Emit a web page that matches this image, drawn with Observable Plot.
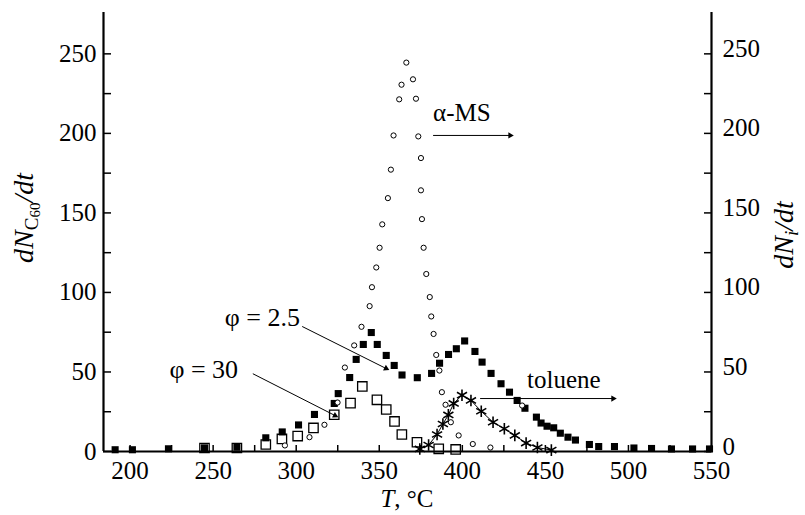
<!DOCTYPE html>
<html><head><meta charset="utf-8">
<script src="https://cdn.jsdelivr.net/npm/d3@7"></script>
<script src="https://cdn.jsdelivr.net/npm/@observablehq/plot@0.6"></script>
<style>body{margin:0;background:#fff} svg{display:block}</style>
</head><body><div id="chart"></div>
<script>
// ---- axes ----
const xDomain = [184, 550];
const yDomain = [0, 276];
const xTickLabels = [200, 250, 300, 350, 400, 450, 500, 550];
const xMinorTicks = [200, 225, 250, 275, 300, 325, 350, 375, 400, 425, 450, 475, 500, 525, 550];
const yTickLabels = [0, 50, 100, 150, 200, 250];
const yMinorTicks = [0, 25, 50, 75, 100, 125, 150, 175, 200, 225, 250];

// ---- series: open circles (alpha-MS) ----
const circT = [293.2, 308.0, 317.0, 324.9, 329.3, 334.9, 339.3, 344.2, 345.6, 348.2, 350.2, 351.8, 355.2, 357.0, 358.6, 362.0, 363.4, 366.3, 370.3, 372.1, 373.5, 375.1, 375.1, 375.7, 376.7, 378.3, 380.4, 381.3, 382.7, 384.3, 386.2, 387.7, 389.9, 393.1, 397.8, 406.3, 416.9, 436.0];
const circV = [3.8, 9.0, 16.8, 30.8, 52.8, 66.7, 78.4, 91.4, 103.3, 115.7, 128.1, 142.8, 159.3, 177.2, 198.7, 221.4, 230.6, 244.5, 234.0, 221.8, 198.1, 184.5, 164.2, 146.1, 128.1, 111.6, 97.1, 84.9, 73.9, 60.7, 50.9, 37.3, 29.4, 18.4, 10.1, 4.7, 2.5, 28.9];

// ---- filled squares (phi = 2.5) ----
const fsqT = [191.0, 201.4, 223.1, 244.8, 264.3, 281.7, 291.6, 301.4, 311.0, 322.9, 325.3, 332.2, 336.1, 340.4, 345.2, 348.8, 354.2, 359.0, 363.7, 372.9, 381.5, 386.3, 391.7, 396.4, 401.4, 407.6, 411.9, 417.3, 423.3, 428.4, 433.0, 437.7, 444.6, 447.4, 451.0, 455.0, 459.0, 463.6, 468.1, 476.5, 482.1, 491.6, 503.3, 513.9, 525.9, 538.6, 548.8];
const fsqV = [1.1, 1.1, 1.7, 2.3, 2.7, 8.6, 12.3, 16.7, 23.3, 30.2, 36.4, 46.5, 57.9, 67.3, 74.8, 67.3, 60.4, 54.1, 48.1, 46.4, 49.1, 55.5, 61.0, 64.6, 69.5, 62.9, 56.2, 49.1, 42.6, 37.3, 32.1, 27.2, 21.6, 17.9, 15.9, 14.9, 11.5, 9.0, 7.2, 4.4, 3.1, 3.1, 2.2, 1.9, 1.6, 1.6, 1.6];

// ---- open squares (phi = 30) ----
const osqT = [244.8, 264.3, 281.7, 291.4, 300.9, 310.4, 322.9, 332.7, 339.8, 348.6, 354.2, 359.2, 363.6, 372.7, 385.8, 396.0];
const osqV = [2.2, 2.2, 4.4, 7.9, 9.7, 14.8, 23.1, 30.4, 40.9, 32.5, 26.4, 18.9, 10.7, 5.8, 1.7, 1.3];

// ---- asterisks (toluene) ----
const astT = [374.4, 379.7, 384.8, 388.3, 391.6, 394.8, 399.8, 405.2, 411.4, 418.5, 425.3, 431.6, 438.4, 445.2, 453.6];
const astV = [1.6, 4.1, 10.7, 17.3, 23.0, 30.2, 35.4, 32.1, 25.3, 18.4, 14.3, 10.1, 5.3, 2.5, 0.9];

// ---- annotation texts ----
const labels = ["α-MS", "toluene", "φ = 2.5", "φ = 30"];

const zip = (a, b) => a.map((t, i) => ({T: t, v: b[i]}));
const circ = zip(circT, circV), fsq = zip(fsqT, fsqV), osq = zip(osqT, osqV), ast = zip(astT, astV);

// annotation geometry (data units)
const textStart = [
  {T: 382.4, v: 212.6, s: labels[0]},
  {T: 439.0, v: 44.7, s: labels[1]}
];
const textEnd = [
  {T: 302.3, v: 84.3, s: labels[2]},
  {T: 265.0, v: 51.6, s: labels[3]}
];
const arrows = [
  {x1: 382.4, y1: 198.7, x2: 428.8, y2: 198.7, rot: 90},
  {x1: 410.7, y1: 33.3, x2: 490.8, y2: 33.3, rot: 90},
  {x1: 303.6, y1: 78.6, x2: 354.1, y2: 52.2, rot: 116.6},
  {x1: 273.9, y1: 48.9, x2: 323.4, y2: 22.6, rot: 116.9}
];

const font = "'Liberation Serif', 'Times New Roman', serif";
const plot = Plot.plot({
  width: 805, height: 515,
  marginLeft: 103, marginRight: 94, marginTop: 12, marginBottom: 64,
  style: {fontFamily: font, fontSize: "25px", color: "black", background: "white", overflow: "visible"},
  x: {domain: xDomain},
  y: {domain: yDomain},
  marks: [
    // axis ticks (inward)
    Plot.axisX({ticks: xMinorTicks, tickSize: -6, fill: "none", label: null, strokeWidth: 1.5}),
    Plot.axisX({ticks: xTickLabels, tickSize: 0, tickPadding: 10, label: null, tickFormat: d => String(d)}),
    Plot.axisY({anchor: "left", ticks: yMinorTicks, tickSize: -8, fill: "none", label: null, strokeWidth: 1.5}),
    Plot.axisY({anchor: "left", ticks: yTickLabels, tickSize: 0, tickPadding: 7, label: null, tickFormat: d => String(d)}),
    Plot.axisY({anchor: "right", ticks: yMinorTicks, tickSize: -8, fill: "none", label: null, strokeWidth: 1.5}),
    Plot.axisY({anchor: "right", ticks: yTickLabels, tickSize: 0, tickPadding: 11, dy: -5, label: null, tickFormat: d => String(d)}),
    // axis lines
    Plot.ruleY([yDomain[0]], {stroke: "black", strokeWidth: 2.2}),
    Plot.ruleX([xDomain[0], xDomain[1]], {stroke: "black", strokeWidth: 2.2}),
    // annotations
    Plot.link(arrows, {x1: "x1", y1: "y1", x2: "x2", y2: "y2", stroke: "black", strokeWidth: 1}),
    Plot.dot(arrows, {x: "x2", y: "y2", symbol: "triangle2", r: 3, fill: "black", rotate: "rot"}),
    Plot.text(textStart, {x: "T", y: "v", text: "s", textAnchor: "start", fontSize: 25, fill: "black"}),
    Plot.text(textEnd, {x: "T", y: "v", text: "s", textAnchor: "end", fontSize: 26, fill: "black"}),
    // data
    Plot.dot(fsq, {x: "T", y: "v", symbol: "square", r: 4, fill: "black"}),
    Plot.dot(osq, {x: "T", y: "v", symbol: "square", r: 5.3, fill: "none", stroke: "black", strokeWidth: 1.3}),
    Plot.line(ast, {x: "T", y: "v", stroke: "black", strokeWidth: 1}),
    Plot.dot(ast, {x: "T", y: "v", symbol: "asterisk", r: 5.5, stroke: "black", strokeWidth: 1.6}),
    Plot.dot(circ, {x: "T", y: "v", symbol: "circle", r: 2.6, fill: "white", stroke: "black", strokeWidth: 1})
  ]
});
document.getElementById("chart").appendChild(plot);

// axis titles with sub-scripts
const svg = d3.select(plot);
const lt = svg.append("text").attr("transform", "translate(33,218) rotate(-90)")
  .attr("text-anchor", "middle").attr("font-family", font).attr("font-size", 28).attr("fill", "black");
lt.append("tspan").attr("font-style", "italic").text("dN");
lt.append("tspan").attr("font-size", 19).attr("dy", 5).text("C");
lt.append("tspan").attr("font-size", 15).attr("dy", 2).text("60");
lt.append("tspan").attr("font-style", "italic").attr("dy", -7).text("/dt");

const rt = svg.append("text").attr("transform", "translate(793,235) rotate(-90)")
  .attr("text-anchor", "middle").attr("font-family", font).attr("font-size", 28).attr("fill", "black");
rt.append("tspan").attr("font-style", "italic").text("dN");
rt.append("tspan").attr("font-style", "italic").attr("font-size", 19).attr("dy", 5).text("i");
rt.append("tspan").attr("font-style", "italic").attr("dy", -5).text("/dt");

const bt = svg.append("text").attr("x", 407).attr("y", 507)
  .attr("text-anchor", "middle").attr("font-family", font).attr("font-size", 25).attr("fill", "black");
bt.append("tspan").attr("font-style", "italic").text("T");
bt.append("tspan").text(", °C");
</script>
</body></html>
